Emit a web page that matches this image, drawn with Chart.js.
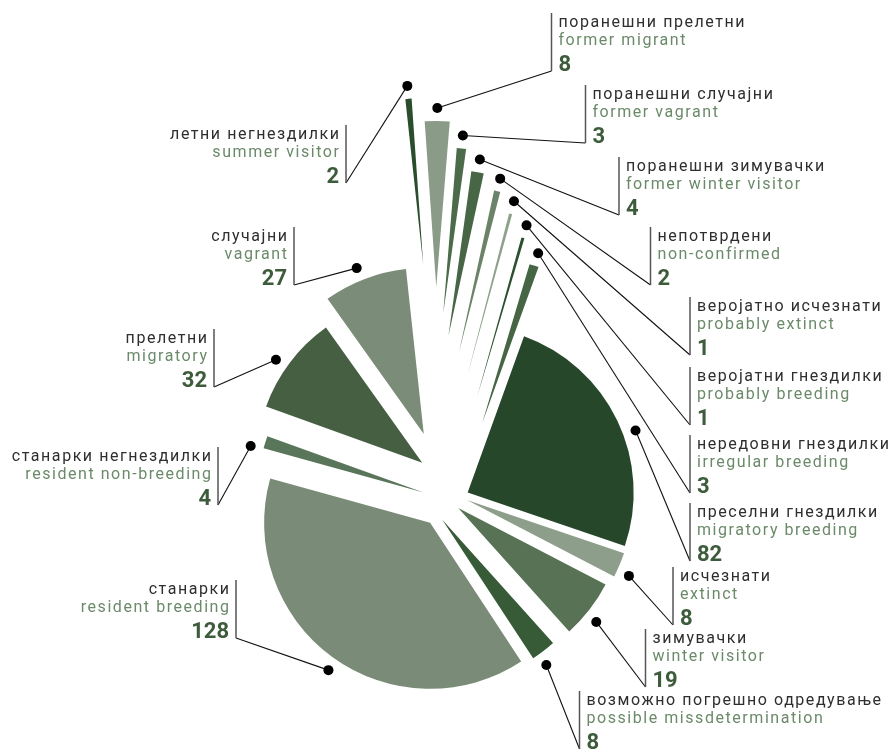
<!DOCTYPE html>
<html>
<head>
<meta charset="utf-8">
<style>
html,body{margin:0;padding:0;background:#ffffff;}
#wrap{width:891px;height:750px;position:relative;overflow:hidden;}
canvas{display:block;}
</style>
<script src="https://cdn.jsdelivr.net/npm/chart.js@4.4.1/dist/chart.umd.min.js"></script>
</head>
<body>
<div id="wrap"><canvas id="c" width="891" height="750"></canvas></div>
<script>
// ---------- DATA ----------
const categoriesMk = [
  'поранешни прелетни', 'поранешни случајни', 'поранешни зимувачки', 'непотврдени',
  'веројатно исчезнати', 'веројатни гнездилки', 'нередовни гнездилки', 'преселни гнездилки',
  'исчезнати', 'зимувачки', 'возможно погрешно одредување', 'станарки',
  'станарки негнездилки', 'прелетни', 'случајни', 'летни негнездилки'
];
const categoriesEn = [
  'former migrant', 'former vagrant', 'former winter visitor', 'non-confirmed',
  'probably extinct', 'probably breeding', 'irregular breeding', 'migratory breeding',
  'extinct', 'winter visitor', 'possible missdetermination', 'resident breeding',
  'resident non-breeding', 'migratory', 'vagrant', 'summer visitor'
];
const speciesCounts = [8, 3, 4, 2, 1, 1, 3, 82, 8, 19, 8, 128, 4, 32, 27, 2];

// ---------- STYLE ----------
const sliceColors = [
  '#8a9c87', '#4b6b4a', '#466646', '#6b8469',
  '#8fa18c', '#2d5030', '#456545', '#26472a',
  '#8d9f8a', '#587256', '#375a37', '#7a8c77',
  '#5a765a', '#465f43', '#7b8d78', '#2a4d2c'
];
// explode: push of each slice along its bisector (px); drift: sideways push (px, + = clockwise)
const sliceExplode = [211, 183, 160, 144, 125, 105, 82, 21, 19, 15, 14, 30, 24, 41, 68, 235];
const sliceDrift   = [-12, -24, -27, -22, -12, 1, 10, 4, -6, 1, 17, -1, -2, 13, 1, -3];
// small turn (deg) of the callout dot around the slice tip
const dotTurn      = [0, 0, 0, 0, 0, 0, 0, 5.4, 2, 1.8, 2, -1.5, -2.6, -2, -1.2, 0];
// callout boxes: side of text, x of the vertical rule, top of the rule
const calloutLayout = [
  {side: 'R', x: 551.5, top: 13},
  {side: 'R', x: 585.5, top: 85},
  {side: 'R', x: 619,   top: 157},
  {side: 'R', x: 650.5, top: 227},
  {side: 'R', x: 690,   top: 297},
  {side: 'R', x: 690,   top: 367},
  {side: 'R', x: 690,   top: 435},
  {side: 'R', x: 690,   top: 503},
  {side: 'R', x: 673,   top: 567},
  {side: 'R', x: 645.5, top: 629},
  {side: 'R', x: 579.5, top: 691},
  {side: 'L', x: 236,   top: 580},
  {side: 'L', x: 218,   top: 447},
  {side: 'L', x: 214,   top: 329},
  {side: 'L', x: 294,   top: 227},
  {side: 'L', x: 346,   top: 125}
];
const RULE_H = 58;

const explodePlugin = {
  id: 'explodeSlices',
  beforeDatasetsDraw(chart) {
    const meta = chart.getDatasetMeta(0);
    const ca = chart.chartArea;
    const cx = (ca.left + ca.right) / 2;
    const cy = (ca.top + ca.bottom) / 2;
    meta.data.forEach((arc, i) => {
      const a = (arc.startAngle + arc.endAngle) / 2;
      const ux = Math.cos(a), uy = Math.sin(a);
      const tx = -uy, ty = ux;
      arc.x = cx + sliceExplode[i] * ux + sliceDrift[i] * tx;
      arc.y = cy + sliceExplode[i] * uy + sliceDrift[i] * ty;
    });
  }
};

const calloutPlugin = {
  id: 'callouts',
  afterDatasetsDraw(chart) {
    const ctx = chart.ctx;
    const meta = chart.getDatasetMeta(0);
    ctx.save();
    meta.data.forEach((arc, i) => {
      const L = calloutLayout[i];
      const a = (arc.startAngle + arc.endAngle) / 2 + dotTurn[i] * Math.PI / 180;
      const rr = arc.outerRadius + 13;
      const dx = arc.x + rr * Math.cos(a);
      const dy = arc.y + rr * Math.sin(a);
      const bottom = L.top + RULE_H;
      // leader
      ctx.strokeStyle = '#111111';
      ctx.lineWidth = 1.1;
      ctx.beginPath();
      ctx.moveTo(dx, dy);
      ctx.lineTo(L.x, bottom);
      ctx.stroke();
      // vertical rule
      ctx.strokeStyle = '#555555';
      ctx.lineWidth = 1.5;
      ctx.beginPath();
      ctx.moveTo(L.x, L.top);
      ctx.lineTo(L.x, bottom);
      ctx.stroke();
      // dot
      ctx.fillStyle = '#000000';
      ctx.beginPath();
      ctx.arc(dx, dy, 5, 0, Math.PI * 2);
      ctx.fill();
      // texts
      const right = L.side === 'R';
      ctx.textAlign = right ? 'left' : 'right';
      ctx.textBaseline = 'alphabetic';
      const tx = right ? L.x + 7 : L.x - 5.5;
      ctx.font = '16px Roboto';
      if ('letterSpacing' in ctx) ctx.letterSpacing = '1.55px';
      ctx.fillStyle = '#2e2e2e';
      ctx.fillText(categoriesMk[i], tx, L.top + 14);
      ctx.fillStyle = '#6b8a69';
      ctx.fillText(categoriesEn[i], tx, L.top + 32);
      if ('letterSpacing' in ctx) ctx.letterSpacing = '0px';
      ctx.font = 'bold 22px Roboto';
      ctx.fillStyle = '#3d5c3b';
      ctx.fillText(String(speciesCounts[i]), right ? L.x + 7 : L.x - 7, bottom);
    });
    ctx.restore();
  }
};

new Chart(document.getElementById('c'), {
  type: 'pie',
  data: {
    labels: categoriesEn,
    datasets: [{
      data: speciesCounts,
      backgroundColor: sliceColors,
      borderWidth: 0,
      clip: false
    }]
  },
  options: {
    responsive: false,
    animation: false,
    events: [],
    rotation: -4,
    layout: {padding: {left: 281, right: 278, top: 332, bottom: 86}},
    plugins: {legend: {display: false}, tooltip: {enabled: false}}
  },
  plugins: [explodePlugin, calloutPlugin]
});
</script>
</body>
</html>
